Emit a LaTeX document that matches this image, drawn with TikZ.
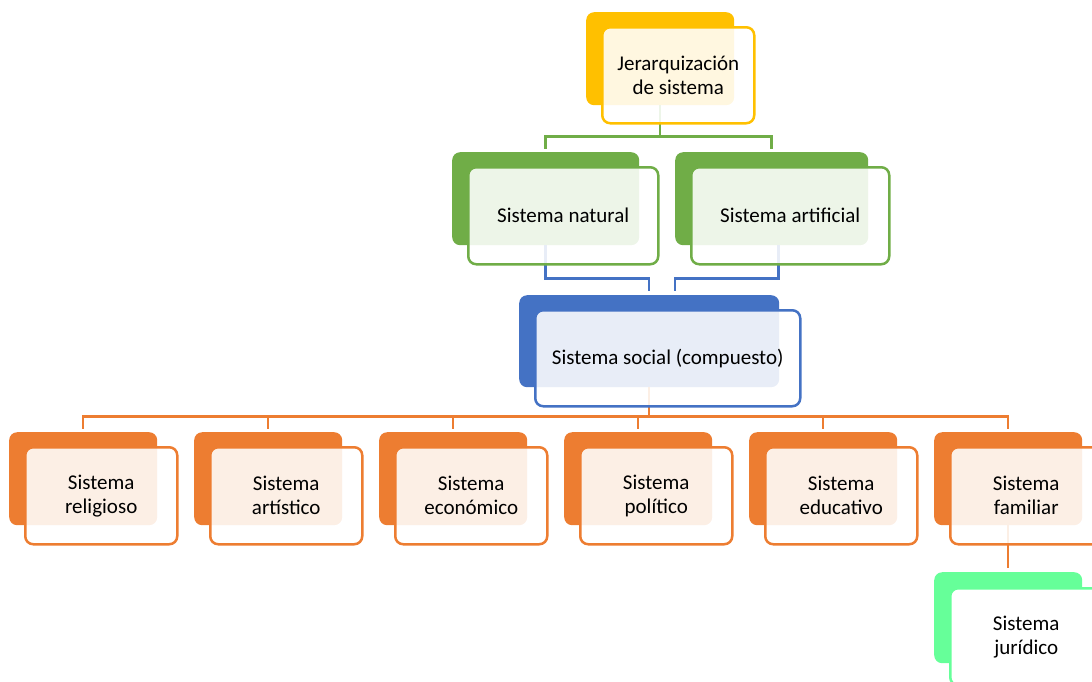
\documentclass[tikz,border=0pt]{standalone}
\usepackage{fontspec}
\setmainfont{Carlito}
\usetikzlibrary{calc}
\definecolor{cyellow}{HTML}{FFC000}
\definecolor{cgreen}{HTML}{70AD47}
\definecolor{cblue}{HTML}{4472C4}
\definecolor{corange}{HTML}{ED7D31}
\definecolor{cmint}{HTML}{66FF99}
\begin{document}
\begin{tikzpicture}[x=1pt,y=-1pt,
  back/.style={fill=#1,rounded corners=8pt,inner sep=0pt,anchor=north west,minimum height=93pt},
  front/.style={draw=#1,line width=2.5pt,fill=white,fill opacity=0.88,text opacity=1,rounded corners=8pt,
    inner sep=0pt,anchor=north west,minimum height=97pt,align=center,font=\fontsize{21}{24}\selectfont},
  link/.style={draw=#1,line width=2.5pt}]
\pgfmathsetmacro{\dx}{15}
\pgfmathsetmacro{\dy}{14}
\useasboundingbox (0,0) rectangle (1092,681);
%back boxes
\node[back=cyellow,minimum width=148pt] (jer-b) at (586,12) {};
\node[back=cgreen,minimum width=187pt] (nat-b) at (452,152) {};
\node[back=cgreen,minimum width=193pt] (art-b) at (675,152) {};
\node[back=cblue,minimum width=260pt,minimum height=92pt] (soc-b) at (519,295) {};
\foreach \n [count=\i from 0] in {rel,ats,eco,pol,edu,fam}
  \node[back=corange,minimum width=148pt] (\n-b) at (9+185*\i,432) {};
\node[back=cmint,minimum width=148pt,minimum height=91pt] (jur-b) at (934,572) {};
%links
\draw[link=cgreen] (jer-b.south)--++(0,31)coordinate(gbus);
\draw[link=cgreen] (gbus)-|([yshift=3pt]nat-b.north);
\draw[link=cgreen] (gbus)-|([yshift=3pt]art-b.north);
\draw[link=cblue] (nat-b.south)--++(0,33)-|([yshift=4pt]soc-b.north);
\draw[link=cblue] ([xshift=7pt]art-b.south)--++(0,33)-|([xshift=26pt,yshift=4pt]soc-b.north);
\draw[link=corange] (soc-b.south)--++(0,29)coordinate(obus);
\foreach \n in {rel,ats,eco,pol,edu,fam}
  \draw[link=corange] (obus)-|([yshift=3pt]\n-b.north);
\draw[link=corange] (fam-b.south)--([yshift=4pt]jur-b.north);
%front boxes
\node[front=cyellow,minimum width=152pt,minimum height=96pt] (jer) at ($(jer-b.north west)+(\dx,\dy)$) {Jerarquización\\de sistema};
\node[front=cgreen,minimum width=190pt] (nat) at ($(nat-b.north west)+(\dx,\dy)$) {Sistema natural};
\node[front=cgreen,minimum width=198pt] (art) at ($(art-b.north west)+(\dx,\dy)$) {Sistema artificial};
\node[front=cblue,minimum width=265pt,minimum height=96pt] (soc) at ($(soc-b.north west)+(\dx,\dy)$) {Sistema social (compuesto)};
\foreach \n/\t in {rel/religioso,ats/artístico,eco/económico,pol/político,edu/educativo,fam/familiar}
  \node[front=corange,minimum width=152pt] (\n) at ($(\n-b.north west)+(\dx,\dy)$) {Sistema\\\t};
\node[front=cmint,fill opacity=1,minimum width=152pt] (jur) at ($(jur-b.north west)+(15,15)$) {Sistema\\jurídico};
\end{tikzpicture}
\end{document}
